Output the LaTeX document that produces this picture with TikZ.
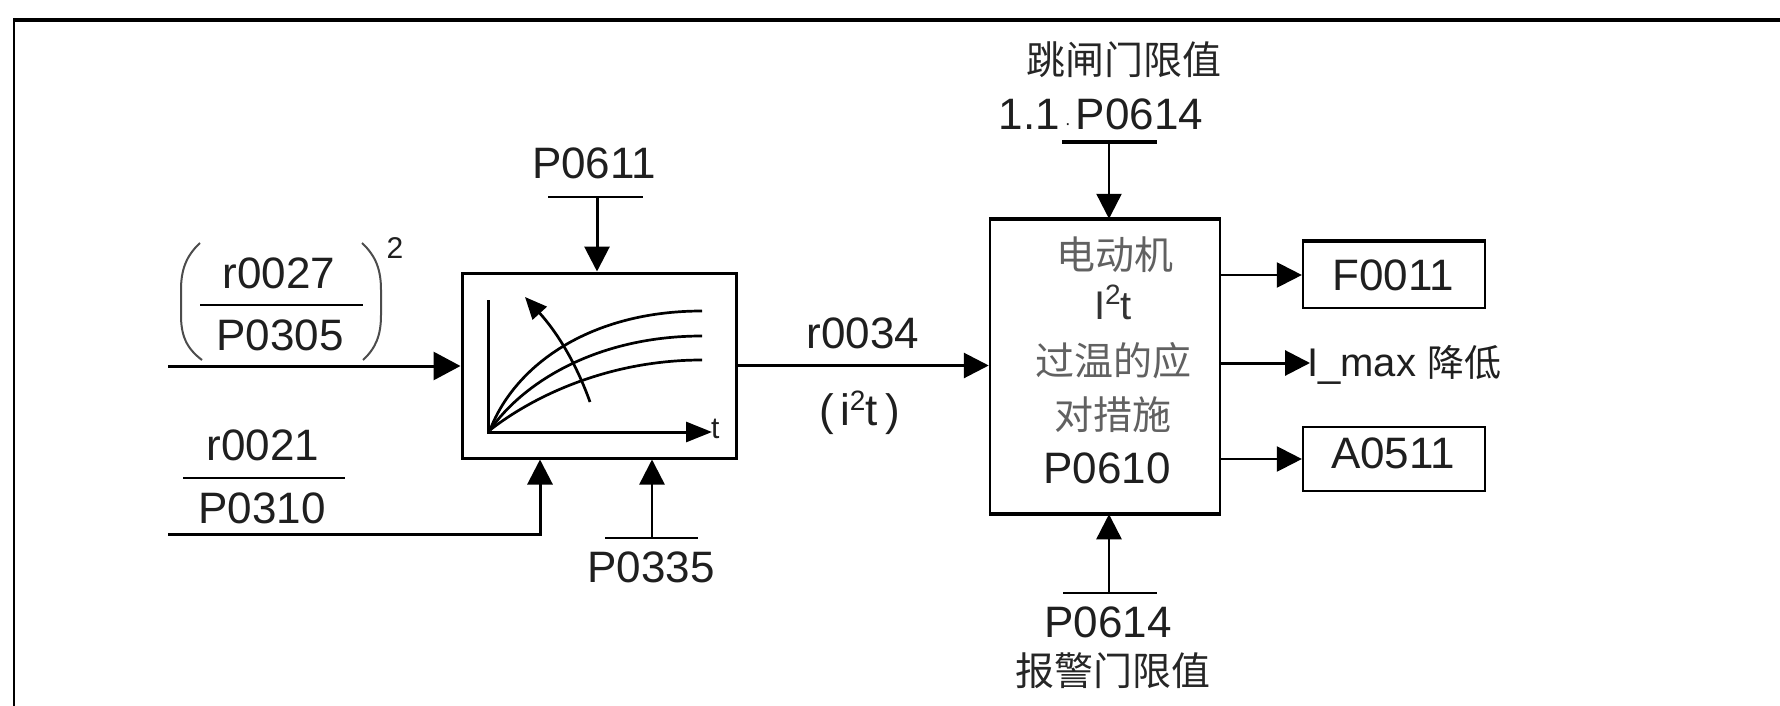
\documentclass[tikz,border=0pt]{standalone}
\usepackage{fontspec}
\setmainfont{Liberation Sans}
\newfontfamily\cjk{Noto Sans CJK SC}
\usetikzlibrary{arrows.meta}
\newcommand\mysup[1]{\raisebox{15pt}{\fontsize{28}{28}\selectfont #1}}
\begin{document}
\begin{tikzpicture}[x=1pt,y=-1pt,
  lbl/.style={font=\fontsize{44}{50}\selectfont, inner sep=0pt, anchor=base, text=black!88},
  cj/.style={font=\cjk\fontsize{39}{44}\selectfont, inner sep=0pt, text=black!85},
  cjg/.style={font=\cjk\fontsize{39}{44}\selectfont, inner sep=0pt, text=black!62},
  arr/.style={-{Triangle[length=25pt,width=25pt]}, line width=2.5pt},
  bigarr/.style={-{Triangle[length=27pt,width=28pt]}, line width=3pt},
  bar/.style={line width=2.5pt},
  blk/.style={draw, inner sep=0pt},
]
\useasboundingbox (0,0) rectangle (1780,706);
\fill[white] (0,0) rectangle (1780,706);

% frame
\draw[line width=4pt] (14,20) -- (1780,20);
\draw[line width=2.5pt] (14,18) -- (14,706);

% blocks
\node[blk, line width=3pt, minimum width=274pt, minimum height=185pt] (b1) at (599,365.5) {};
\node[blk, line width=2.5pt, minimum width=230pt, minimum height=293pt] (b2) at (1105,366.5) {};
\draw[line width=4pt] (b2.south west) -- (b2.south east);
\draw[line width=3pt] (b2.north west) -- (b2.north east);
\node[blk, line width=2.2pt, minimum width=182pt, minimum height=66pt] (f11) at (1394,275) {};
\draw[line width=4pt] (f11.north west) -- (f11.north east);
\node[blk, line width=2.2pt, minimum width=182pt, minimum height=64pt] (a511) at (1394,459) {};
\node[lbl] (f11t) at (1393,290) {F0011};
\node[lbl] (a511t) at (1393,468) {A0511};

% graph inside block 1
\draw[line width=3pt, -{Triangle[length=26pt,width=20pt]}] (488,300) -- (488,432) -- (712,432);
\node[lbl, anchor=base west, font=\fontsize{30}{32}\selectfont] (tl) at (711,438) {t};
\draw[line width=2.7pt] (490,430) .. controls (515,365) and (590,311) .. (702,311);
\draw[line width=2.7pt] (490,430) .. controls (525,380) and (600,336) .. (702,336);
\draw[line width=2.7pt] (490,430) .. controls (535,395) and (610,360) .. (702,360);
\draw[line width=2.7pt, -{Triangle[length=22pt,width=19pt]}] (590,402) .. controls (575,360) and (555,330) .. (525,297);

% input 1: (r0027/P0305)^2
\node[lbl] (r27) at (279,288) {r0027};
\node[lbl] (p305) at (280,350) {P0305};
\coordinate (fb1l) at (200,305);
\coordinate (fb1r) at (363,305);
\draw[line width=2pt] (fb1l) -- (fb1r);
\draw[line width=2pt, black!70] (200,243) .. controls (186,256) and (181,270) .. (181,290) -- (181,315) .. controls (181,335) and (186,348) .. (202,360);
\draw[line width=2pt, black!70] (362,243) .. controls (376,256) and (381,270) .. (381,290) -- (381,315) .. controls (381,335) and (376,348) .. (363,360);
\node[lbl, font=\fontsize{30}{32}\selectfont] (sq) at (395,258) {2};
\coordinate (in1) at (168,366);
\draw[bigarr] (in1) -- (in1 -| b1.west);

% input 2: r0021/P0310
\node[lbl] (r21) at (263,460) {r0021};
\node[lbl] (p310) at (262,523) {P0310};
\coordinate (fb2l) at (183,478);
\coordinate (fb2r) at (345,478);
\draw[line width=2.5pt] (fb2l) -- (fb2r);
\coordinate (in2) at (168,534);
\coordinate (k2) at (540,534);
\draw[arr, line width=3pt] (in2) -- (k2) -- (k2 |- b1.south);

% P0611
\node[lbl] (p611) at (594,178) {P0611};
\coordinate (p611l) at (548,197);
\coordinate (p611r) at (643,197);
\coordinate (p611a) at (597,197);
\draw[bar] (p611l) -- (p611r);
\draw[arr, line width=3pt] (p611a) -- (p611a |- b1.north);

% P0335
\node[lbl] (p335) at (651,582) {P0335};
\coordinate (p335l) at (605,538);
\coordinate (p335r) at (698,538);
\coordinate (p335a) at (652,538);
\draw[bar] (p335l) -- (p335r);
\draw[arr, line width=2.5pt] (p335a) -- (p335a |- b1.south);

% r0034
\draw[arr, line width=3pt] (b1.east) -- (b1.east -| b2.west);
\node[lbl] (r34) at (863,348) {r0034};
\node[lbl] (i2t) at (860,425) {(\hspace{6pt}i\mysup{2}t\hspace{8pt})};

% block 2 text
\node[cjg] (c1) at (1115,255) {电动机};
\node[lbl, text=black!80, font=\fontsize{40}{44}\selectfont] (c2) at (1113,319) {I\mysup{2}t};
\node[cjg] (c3) at (1113,361) {过温的应};
\node[cjg] (c4) at (1113,415) {对措施};
\node[lbl] (c5) at (1107,483) {P0610};

% trip threshold (top)
\node[cj] (trip) at (1124,60) {跳闸门限值};
\node[lbl] (tripv) at (1101,130) {1.1\hspace{5pt}{\fontsize{18}{18}\selectfont ·}\hspace{5pt}P0614};
\coordinate (tbl) at (1062,142);
\coordinate (tbr) at (1157,142);
\coordinate (tba) at (1109,142);
\draw[line width=3.5pt] (tbl) -- (tbr);
\draw[arr, line width=2.5pt] (tba) -- (tba |- b2.north);

% warning threshold (bottom)
\coordinate (wbl) at (1063,593);
\coordinate (wbr) at (1157,593);
\coordinate (wba) at (1109,593);
\draw[bar] (wbl) -- (wbr);
\draw[arr, line width=2.5pt] (wba) -- (wba |- b2.south);
\node[lbl] (warnv) at (1108,637) {P0614};
\node[cj] (warn) at (1113,671) {报警门限值};

% outputs
\draw[arr, line width=2.2pt] (b2.east |- f11.west) -- (f11.west);
\coordinate (imax) at (1310,363);
\draw[arr, line width=3pt] (imax -| b2.east) -- (imax);
\node[lbl, anchor=base west, font=\fontsize{40}{44}\selectfont] (imaxt) at (1307,376) {I\_max {\cjk\fontsize{37}{40}\selectfont 降低}};
\draw[arr, line width=2.2pt] (b2.east |- a511.west) -- (a511.west);
\end{tikzpicture}
\end{document}
